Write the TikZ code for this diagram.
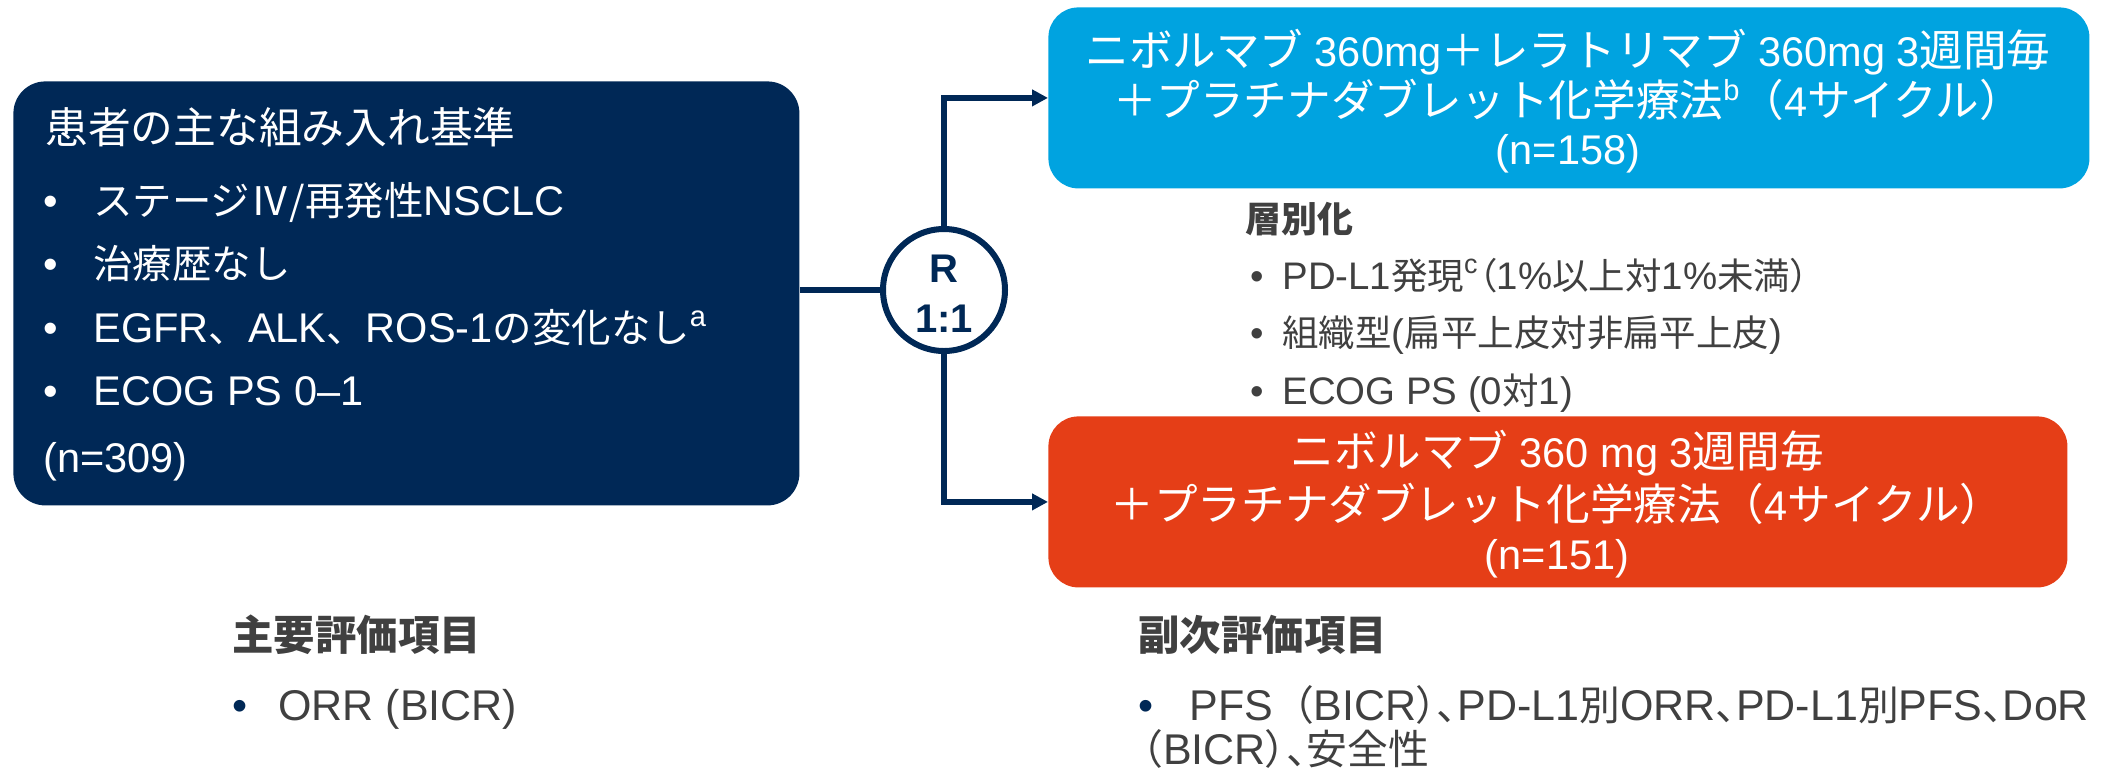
\documentclass[tikz,border=0pt]{standalone}
\usepackage{fontspec}
\setmainfont{Liberation Sans}
\newfontfamily\jpa[Scale=0.95]{Noto Sans CJK JP}
\newfontfamily\jpc[Scale=1.05]{Noto Sans CJK JP}
\newfontfamily\jpp[Scale=0.95,RawFeature=+palt]{Noto Sans CJK JP}
\usetikzlibrary{arrows.meta}
\definecolor{navy}{HTML}{002856}
\definecolor{skyb}{HTML}{00A3E0}
\definecolor{redo}{HTML}{E53E17}
\definecolor{dgray}{HTML}{404040}
\begin{document}
\begin{tikzpicture}[x=0.5pt,y=-0.5pt,
  boxs/.style={inner sep=0pt, anchor=north west},
  lt/.style={text=white, inner sep=0pt, anchor=base west, font=\fontsize{20.75}{24}\selectfont},
  ct/.style={text=white, inner sep=0pt, anchor=base, font=\fontsize{20.75}{24}\selectfont},
  st/.style={text=dgray, inner sep=0pt, anchor=base west, font=\fontsize{19.2}{22}\selectfont},
  bt/.style={text=dgray, inner sep=0pt, anchor=base west, font=\fontsize{21.5}{24}\selectfont},
  hd/.style={text=dgray, inner sep=0pt, anchor=base west, font=\fontsize{21.8}{26}\selectfont\bfseries},
  conn/.style={draw=navy, line width=3pt},
  arr/.style={conn, -{Triangle[length=8pt,width=8pt]}},
  rt/.style={text=navy, inner sep=0pt, anchor=base, font=\fontsize{20}{22}\selectfont\bfseries}]
\useasboundingbox (0,0) rectangle (2105,773);

% boxes
\node[boxs, fill=navy, rounded corners=16pt, minimum width=393pt, minimum height=212pt] (lbox) at (13,81) {};
\node[boxs, fill=skyb, rounded corners=15pt, minimum width=520.5pt, minimum height=90.5pt] (blue) at (1048,7) {};
\node[boxs, fill=redo, rounded corners=15pt, minimum width=509.5pt, minimum height=85.5pt] (orange) at (1048,416) {};
\node[circle, draw=navy, line width=3pt, fill=white, minimum size=61pt, inner sep=0pt] (rand) at (944,290) {};

% connectors
\draw[conn] (lbox.east |- rand.west) -- (rand.west);
\draw[arr] (rand.north) |- (blue.west);
\draw[arr] (rand.south) |- (orange.west);

% circle text
\node[rt] (rR) at (944,282) {R};
\node[rt] (r11) at (944,332) {1:1};

% left box text
\node[lt, font=\fontsize{22.5}{26}\selectfont] (lt0) at (45,143) {\jpa 患者の主な組み入れ基準};
\node[lt] (ld1) at (43,215) {•};
\node[lt] (l1) at (93,215) {{\jpa ステージⅣ/再発性}NSCLC};
\node[lt] (ld2) at (43,278) {•};
\node[lt] (l2) at (93,278) {\jpa 治療歴なし};
\node[lt] (ld3) at (43,342) {•};
\node[lt] (l3) at (93,342) {EGFR{\jpa 、}ALK{\jpa 、}ROS-1{\jpa の変化なし}\textsuperscript{a}};
\node[lt] (ld4) at (43,405) {•};
\node[lt] (l4) at (93,405) {ECOG PS 0–1};
\node[lt] (l5) at (43,472) {(n=309)};

% blue box text
\node[ct] (b1) at (1568,66) {{\jpc ニボルマブ} 360mg{\jpc ＋レラトリマブ} 360mg 3{\jpc 週間毎}};
\node[ct] (b2) at (1568,116) {{\jpc ＋プラチナダブレット化学療法}\textsuperscript{b}{\jpc （}4{\jpc サイクル）}};
\node[ct] (b3) at (1568,164) {(n=158)};

% orange box text
\node[ct] (o1) at (1557,467) {{\jpc ニボルマブ} 360 mg 3{\jpc 週間毎}};
\node[ct] (o2) at (1557,520) {{\jpc ＋プラチナダブレット化学療法（}4{\jpc サイクル）}};
\node[ct] (o3) at (1557,569) {(n=151)};

% stratification
\node[st, font=\fontsize{18.9}{22}\selectfont\bfseries] (s0) at (1245,232) {\jpa 層別化};
\node[st] (sd1) at (1250,289) {•};
\node[st] (s1) at (1282,289) {PD-L1{\jpa 発現}\textsuperscript{c}{\jpp （}1\%{\jpa 以上対}1\%{\jpp 未満）}};
\node[st] (sd2) at (1250,346) {•};
\node[st] (s2) at (1282,346) {{\jpa 組織型}({\jpa 扁平上皮対非扁平上皮})};
\node[st] (sd3) at (1250,404) {•};
\node[st] (s3) at (1282,404) {ECOG PS (0{\jpa 対}1)};

% endpoints
\node[hd] (p0) at (232,650) {\jpa 主要評価項目};
\node[bt, text=navy] (pd1) at (232,720) {•};
\node[bt] (p1) at (278,720) {ORR (BICR)};
\node[hd] (q0) at (1138,650) {\jpa 副次評価項目};
\node[bt, text=navy] (qd1) at (1138,720) {•};
\node[bt] (q1) at (1189,720) {PFS{\jpa （}BICR{\jpp ）、}PD-L1{\jpp 別}ORR{\jpp 、}PD-L1{\jpp 別}PFS{\jpp 、}DoR};
\node[bt] (q2) at (1122,764) {{\jpa （}BICR{\jpp ）、}{\jpa 安全性}};
\end{tikzpicture}
\end{document}
